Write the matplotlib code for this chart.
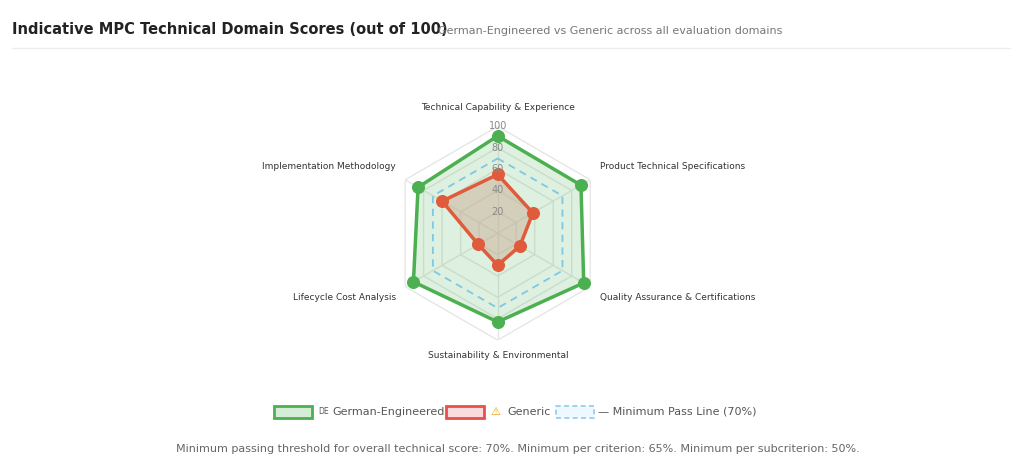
import numpy as np
import matplotlib
matplotlib.use("Agg")
import matplotlib.pyplot as plt

categories = ["Technical Capability & Experience", "Product Technical Specifications",
              "Quality Assurance & Certifications", "Sustainability & Environmental",
              "Lifecycle Cost Analysis", "Implementation Methodology"]
german = [91, 90, 93, 83, 91, 86]
generic = [55, 38, 24, 30, 21, 60]
passline = [70, 70, 70, 70, 70, 70]
ticks = [20, 40, 60, 80, 100]

fig = plt.figure(figsize=(10.24, 4.75), dpi=100)
fig.patch.set_facecolor("white")
ax = fig.add_axes([0.486 - 0.1045, 0.509 - 0.225, 0.209, 0.45], projection="polar")
ax.set_theta_zero_location("N")
ax.set_theta_direction(-1)
ax.set_ylim(0, 100)
ax.grid(False)
ax.spines["polar"].set_visible(False)
ax.set_xticks([]); ax.set_yticks([])
ax.patch.set_alpha(0)

n = len(categories)
ang = np.linspace(0, 2*np.pi, n, endpoint=False)
angc = np.append(ang, ang[0])
for t in ticks:
    ax.plot(angc, [t]*(n+1), color="#e6e6e6", lw=1, zorder=1)
for a in ang:
    ax.plot([a, a], [0, 100], color="#e6e6e6", lw=1, zorder=1)
for t in ticks:
    ax.text(0, t, str(t), ha="center", va="center", fontsize=7, color="#888888", zorder=6)

def close(v): return list(v) + [v[0]]
ax.fill(angc, close(german), color="#4caf50", alpha=0.18, zorder=2)
ax.plot(angc, close(german), color="#4caf50", lw=2.5, zorder=4)
ax.scatter(ang, german, s=70, color="#4caf50", zorder=5)
ax.plot(angc, close(passline), color="#7ec8e3", lw=1.3, ls=(0, (4, 3)), zorder=3)
ax.fill(angc, close(generic), color="#c8a890", alpha=0.45, zorder=3)
ax.plot(angc, close(generic), color="#e05a3c", lw=2.5, zorder=4)
ax.scatter(ang, generic, s=70, color="#e05a3c", zorder=5)

pos = [(498, 107, "center"), (600, 167, "left"), (600, 297, "left"),
       (498, 356, "center"), (396, 297, "right"), (396, 167, "right")]
for (x, y, ha), c in zip(pos, categories):
    fig.text(x/1024, 1-y/475, c, ha=ha, va="center", fontsize=6.5, color="#333333")

fig.text(12/1024, 1-30/475, "Indicative MPC Technical Domain Scores (out of 100)",
         fontsize=10.5, fontweight="bold", color="#222222", va="center")
fig.text(438/1024, 1-31/475, "German-Engineered vs Generic across all evaluation domains",
         fontsize=8, color="#777777", va="center")
fig.add_artist(plt.Line2D([12/1024, 1010/1024], [1-48/475]*2, color="#eeeeee", lw=1))

def box(x, fc, ec, ls="-"):
    fig.add_artist(plt.Rectangle((x/1024, 1-418/475), 38/1024, 12/475, fc=fc, ec=ec,
                                 lw=2 if ls == "-" else 1.2, ls=ls))
box(274, "#d5edd6", "#4caf50")
box(446, "#fbdcdc", "#e8504a")
box(556, "#f0f8ff", "#8ccbf0", ls=(0, (3, 2)))
fig.text(318/1024, 1-412/475, "DE", fontsize=5.5, color="#555555", va="center")
fig.text(332/1024, 1-412/475, "German-Engineered", fontsize=8, color="#555555", va="center")
fig.text(490/1024, 1-412/475, "⚠", fontsize=8, color="#e8a000", va="center")
fig.text(507/1024, 1-412/475, "Generic", fontsize=8, color="#555555", va="center")
fig.text(598/1024, 1-412/475, "— Minimum Pass Line (70%)", fontsize=8, color="#555555", va="center")

fig.text(518/1024, 1-449/475,
         "Minimum passing threshold for overall technical score: 70%. Minimum per criterion: 65%. Minimum per subcriterion: 50%.",
         ha="center", va="center", fontsize=8, color="#666666")

fig.savefig("out.png", dpi=100, facecolor="white")
